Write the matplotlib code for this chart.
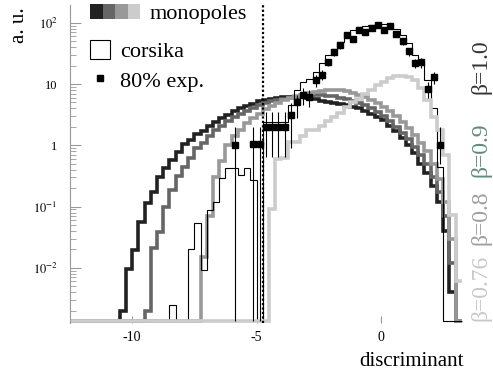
import numpy as np
import matplotlib
matplotlib.use("Agg")
import matplotlib.pyplot as plt
from matplotlib.patches import Patch
from matplotlib.lines import Line2D
from matplotlib.legend_handler import HandlerTuple
from matplotlib.ticker import FixedLocator, FixedFormatter, NullLocator

plt.rcParams['font.family'] = ['Liberation Serif', 'DejaVu Serif']
plt.rcParams['mathtext.fontset'] = 'stix'
plt.rcParams['axes.unicode_minus'] = False

# common binning of the discriminant histograms
edges = np.arange(-12.5, 3.26, 0.25)

# monopole histograms: first bin edge + bin contents (a. u.)
beta10_start = -10.5
beta10 = [0.002, 0.0095, 0.0195, 0.056, 0.113, 0.175, 0.30, 0.42, 0.575, 0.79,
          1.04, 1.22, 1.51, 1.73, 2.07,
          2.4, 2.75, 3.1, 3.6, 4.0, 4.4, 4.8, 5.2, 5.5, 5.8, 6.0, 6.1, 6.2, 6.2,
          6.1, 5.9, 5.6, 5.3, 5.1, 4.9, 4.7, 4.5, 4.3, 4.0, 3.7, 3.3, 2.9, 2.6,
          2.1, 1.7, 1.3, 1.0, 0.75, 0.5, 0.35, 0.22, 0.12, 0.04, 0.004]

beta09_start = -9.5
beta09 = [0.002, 0.021, 0.039, 0.1, 0.186, 0.31, 0.45, 0.61, 0.89, 1.1, 1.42,
          1.75, 2.1, 2.5, 2.9, 3.3, 3.7, 4.1, 4.5, 4.9, 5.2, 5.5, 5.8, 6.0, 6.2,
          6.4, 6.5, 6.6, 6.6, 6.5, 6.3, 6.0, 5.7, 5.3, 4.9, 4.5, 4.0, 3.5, 3.0,
          2.5, 2.0, 1.6, 1.25, 0.95, 0.7, 0.5, 0.3, 0.17, 0.07, 0.012]

beta08_start = -7.25
beta08 = [0.015, 0.07, 0.3, 0.55, 1.0, 1.4, 1.8, 2.3, 2.8, 3.3,
          3.9, 4.4, 4.9, 5.4, 5.9, 6.3, 6.7, 7.1, 7.5, 7.8,
          8.0, 8.0, 7.9, 7.6, 7.2, 6.7, 6.1, 5.5, 4.9, 4.3,
          3.6, 3.0, 2.4, 1.9, 1.5, 1.1, 0.8, 0.5, 0.28, 0.12, 0.03]

beta076_start = -4.5
beta076 = [0.09, 0.6, 0.62, 1.15, 1.15, 1.4, 1.75, 1.8, 2.1, 2.5,
           2.9, 3.4, 4.2, 5.0, 5.8, 6.8, 8.0, 9.5, 11.0, 12.5,
           13.5, 13.5, 13.0, 11.6, 8.6, 5.5, 2.9, 1.8, 0.7, 0.073, 0.006]

corsika_start = -8.5
corsika = [0.0025, 0, 0, 0.02, 0.054, 0.0093, 0.088, 0.12, 0.29, 0.42,
           0.42, 0.33, 0.42, 0.27, 0, 2.4, 2.4, 2.4, 2.4, 4.5,
           8.0, 11.0, 12.0, 16, 22, 30, 38, 48, 68, 75,
           85, 88, 91, 98, 95, 91, 80, 63, 46, 30,
           23, 11.6, 4.0, 0.45]

# 80% experimental sample (bin centres, content, error band low/high; 0 = down to zero)
exp_x = [-5.875, -5.125, -4.875, -4.625, -4.375, -4.125, -3.875, -3.625, -3.375, -3.125,
         -2.875, -2.625, -2.375, -2.125, -1.875, -1.625, -1.375, -1.125, -0.875, -0.625,
         -0.375, -0.125, 0.125, 0.375, 0.625, 0.875, 1.125, 1.375, 1.625, 1.875,
         2.125, 2.375]
exp_y = [1.0, 1.05, 1.05, 2.0, 2.0, 2.0, 2.0, 3.1, 5.1, 6.6,
         6.2, 11.6, 14, 23, 33, 43, 63, 54, 76, 71,
         81, 93, 76, 87, 66, 50, 34, 22, 22.6, 8.4,
         12.9, 1.0]
exp_lo = [0, 0, 0, 0.64, 0.64, 0.64, 0.64, 0.9, 2.8, 4.5,
          4.2, 9.0, 11.5, 20, 29, 38, 56, 48, 68, 64,
          73, 84, 68, 78, 59, 44, 29, 18, 18.5, 6.0,
          10.0, 0.5]
exp_hi = [2.0, 2.0, 2.0, 3.5, 3.5, 3.5, 3.5, 4.9, 6.6, 8.5,
          8.0, 14.0, 17, 26, 37, 48, 70, 60, 84, 78,
          89, 102, 84, 96, 73, 56, 39, 26, 27, 11,
          16, 2.0]

cut = -4.75
beta_labels = ['β=0.76', 'β=0.8', 'β=0.9', 'β=1.0']
beta_colors = ['#c8c8c8', '#9e9e9e', '#5f8a78', '#333333']
mono_colors = ['#222222', '#666666', '#999999', '#cccccc']

ymin, ymax = 1.26e-3, 195
floor = ymin * 1.06


def full(start, vals):
    out = np.zeros(len(edges) - 1)
    i = int(round((start - edges[0]) / 0.25))
    out[i:i + len(vals)] = vals
    return np.where(out > 0, out, floor)


fig = plt.figure(figsize=(4.93, 3.82), dpi=100)
ax = fig.add_axes([70 / 493, 1 - 323 / 382, 393 / 493, 318 / 382])
ax.set_yscale('log')

for (start, vals), col, z in zip([(beta10_start, beta10), (beta09_start, beta09),
                                  (beta08_start, beta08)], mono_colors[:3], [2.0, 2.1, 2.2]):
    ax.stairs(full(start, vals), edges, baseline=None, color=col, lw=2.6,
              joinstyle='miter', zorder=z)

ax.stairs(full(corsika_start, corsika), edges, baseline=None, color='black',
          lw=0.8, zorder=2.3)
ax.stairs(full(beta076_start, beta076), edges, baseline=None, color=mono_colors[3],
          lw=2.6, joinstyle='miter', zorder=2.4)

ey = np.array(exp_y, dtype=float)
elo = np.where(np.array(exp_lo) > 0, exp_lo, floor)
ehi = np.array(exp_hi, dtype=float)
ax.errorbar(exp_x, ey, yerr=[ey - elo, ehi - ey], fmt='s', color='black', ms=3.8,
            elinewidth=0.8, capsize=0, zorder=3)

ax.axvline(cut, color='black', ls=(0, (1, 1)), lw=1.6, zorder=4)

ax.set_xlim(-12.5, 3.3)
ax.set_ylim(ymin, ymax)
for s in ['top', 'right', 'bottom']:
    ax.spines[s].set_visible(False)
ax.spines['left'].set_color('#999999')

ax.xaxis.set_major_locator(FixedLocator([-10, -5, 0]))
ax.xaxis.set_minor_locator(NullLocator())
ax.yaxis.set_major_locator(FixedLocator([1e-2, 1e-1, 1, 10, 100]))
ax.yaxis.set_major_formatter(FixedFormatter(['$10^{-2}$', '$10^{-1}$', '1', '10', '$10^{2}$']))
ax.tick_params(which='both', direction='in', color='#999999')
ax.tick_params(axis='y', which='major', length=8, labelsize=9, pad=9)
ax.tick_params(axis='y', which='minor', length=4)
ax.tick_params(axis='x', which='major', length=5, labelsize=10, pad=6)

ax.set_ylabel('a. u.', fontsize=15, loc='top')
ax.yaxis.set_label_coords(-0.105, 0.994)
ax.set_xlabel('discriminant', fontsize=15)
ax.xaxis.set_label_coords(0.868, -0.09)

mono_handle = tuple(Patch(facecolor=c, edgecolor='none') for c in mono_colors)
leg1 = ax.legend([mono_handle], ['monopoles'], handler_map={tuple: HandlerTuple(ndivide=None, pad=0)},
                 loc='center left', bbox_to_anchor=(0.051, 0.972), frameon=False,
                 fontsize=16, borderpad=0, borderaxespad=0, handlelength=2.25,
                 handleheight=0.68, handletextpad=0.45)
ax.add_artist(leg1)
ax.legend([Patch(facecolor='white', edgecolor='black', lw=0.8),
           Line2D([], [], marker='s', color='black', ls='none', ms=5)],
          ['corsika', '80% exp.'], loc='center left', bbox_to_anchor=(0.051, 0.808),
          frameon=False, fontsize=16, borderpad=0, borderaxespad=0, handlelength=0.9,
          handleheight=0.9, handletextpad=0.45, labelspacing=0.35)

for lab, col, yc in zip(beta_labels, beta_colors, [288, 218, 150, 67]):
    fig.text(481 / 493, 1 - yc / 382, lab, rotation=90, ha='center', va='center',
             fontsize=17, color=col)

fig.savefig('out.png', dpi=100)
